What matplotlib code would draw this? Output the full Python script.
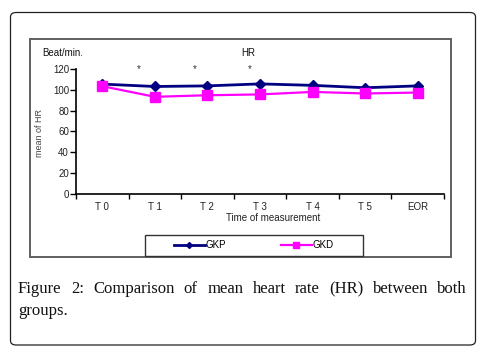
import matplotlib
matplotlib.use("Agg")
import matplotlib.pyplot as plt
from matplotlib.patches import FancyBboxPatch, Rectangle

# data
times = ["T 0", "T 1", "T 2", "T 3", "T 4", "T 5", "EOR"]
gkp = [105.5, 103.2, 103.8, 105.7, 104.3, 102.0, 103.8]
gkd = [103.5, 93.3, 94.8, 95.6, 98.0, 96.5, 97.4]
star_x = [0.70, 1.75, 2.81]
star_y = 120
caption = "Figure 2: Comparison of mean heart rate (HR) between both groups."

W, H = 480, 363
fig = plt.figure(figsize=(W / 100, H / 100), dpi=100)

def fx(px):
    return px / W

def fy(py):
    return 1 - py / H

# outer rounded frame
outer = FancyBboxPatch((fx(10.5), fy(345)), fx(465), (345 - 12.5) / H,
                       boxstyle="round,pad=0,rounding_size=0.012",
                       transform=fig.transFigure, fill=False,
                       edgecolor="#222222", linewidth=0.9)
fig.patches.append(outer)
# inner chart frame
inner = Rectangle((fx(29.5), fy(256.5)), fx(421.5), (256.5 - 39.5) / H,
                  transform=fig.transFigure, fill=False,
                  edgecolor="#606060", linewidth=1.4)
fig.patches.append(inner)
# legend box
legbox = Rectangle((fx(144.5), fy(256)), fx(218.5), (256 - 235) / H,
                   transform=fig.transFigure, fill=False,
                   edgecolor="#333333", linewidth=1.0)
fig.patches.append(legbox)

sans = "Liberation Sans"
fs = 7
ax = fig.add_axes([fx(76), fy(194), fx(444 - 76), (194 - 69) / H])
xs = list(range(len(times)))
l1, = ax.plot(xs, gkp, color="#000080", marker="D", markersize=5, linewidth=2)
l2, = ax.plot(xs, gkd, color="#FF00FF", marker="s", markersize=6.5, linewidth=1.6)

for sx in star_x:
    ax.text(sx, star_y, "*", ha="center", va="center", fontsize=fs,
            family=sans, color="#333333", clip_on=False)

ax.set_xlim(-0.5, len(times) - 0.5)
ax.set_ylim(0, 120)
ax.set_yticks(range(0, 121, 20))
ax.set_xticks(xs)
ax.set_xticklabels(times)
ax.set_xticks([i - 0.5 for i in range(len(times) + 1)], minor=True)
ax.tick_params(axis="x", which="major", length=0, pad=6)
ax.tick_params(axis="x", which="minor", length=3.5, width=1, direction="out")
ax.tick_params(axis="y", length=4, width=1, pad=1)
for lab in ax.get_xticklabels() + ax.get_yticklabels():
    lab.set_family(sans)
    lab.set_fontsize(fs)
    lab.set_color("#222222")
for s in ["top", "right"]:
    ax.spines[s].set_visible(False)
for s in ["left", "bottom"]:
    ax.spines[s].set_linewidth(1.2)

fig.text(fx(39), fy(133), "mean of HR", family=sans, fontsize=6.5,
         rotation=90, va="center", ha="center", color="#444444")
fig.text(fx(42), fy(53), "Beat/min.", family=sans, fontsize=fs,
         va="center", ha="left", color="#111111")
fig.text(fx(248), fy(53), "HR", family=sans, fontsize=fs,
         va="center", ha="center", color="#111111")
fig.text(fx(273), fy(218), "Time of measurement", family=sans, fontsize=fs,
         va="center", ha="center", color="#222222")

fig.legend([l1, l2], ["GKP", "GKD"], loc="center",
           bbox_to_anchor=(fx(254), fy(245.5)), ncol=2, frameon=False,
           prop={"family": sans, "size": fs}, handlelength=3.2,
           handletextpad=0.1, columnspacing=5.6, markerscale=0.6,
           numpoints=1)

# justified caption
serif = "Liberation Serif"
cfs = 12
words = caption.split()
line1 = words[:10]
line2 = words[10:]
fig.canvas.draw()
r = fig.canvas.get_renderer()
x0, x1 = 18, 467
texts = []
for w in line1:
    t = fig.text(0, fy(293), w, family=serif, fontsize=cfs, va="baseline",
                 color="#111111")
    texts.append(t)
widths = [t.get_window_extent(r).width for t in texts]
gap = (x1 - x0 - sum(widths)) / (len(texts) - 1)
x = x0
for t, wd in zip(texts, widths):
    t.set_x(fx(x))
    x += wd + gap
fig.text(fx(x0), fy(315), " ".join(line2), family=serif, fontsize=cfs,
         va="baseline", color="#111111")

fig.savefig("out.png", dpi=100)
